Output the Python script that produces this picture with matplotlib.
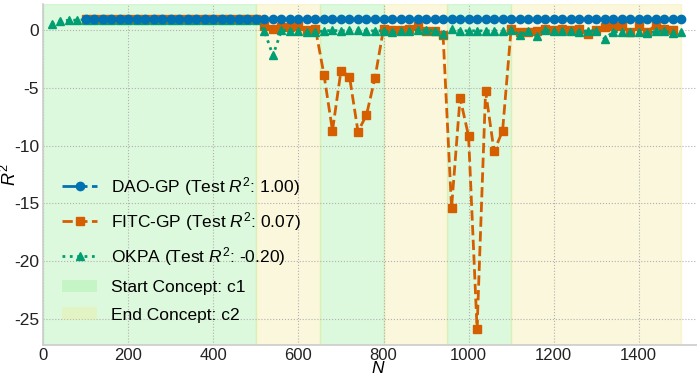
import matplotlib
matplotlib.use("Agg")
import matplotlib.pyplot as plt
from matplotlib.patches import Patch

plt.rcParams['font.family'] = ['Liberation Sans', 'DejaVu Sans']
plt.rcParams['mathtext.fontset'] = 'custom'
plt.rcParams['mathtext.it'] = 'Liberation Sans:italic'
plt.rcParams['mathtext.rm'] = 'Liberation Sans'
plt.rcParams['axes.unicode_minus'] = False

N_all = [20, 40, 60, 80, 100, 120, 140, 160, 180, 200, 220, 240, 260, 280, 300,
         320, 340, 360, 380, 400, 420, 440, 460, 480, 500, 520, 540, 560, 580, 600,
         620, 640, 660, 680, 700, 720, 740, 760, 780, 800, 820, 840, 860, 880, 900,
         920, 940, 960, 980, 1000, 1020, 1040, 1060, 1080, 1100, 1120, 1140, 1160,
         1180, 1200, 1220, 1240, 1260, 1280, 1300, 1320, 1340, 1360, 1380, 1400,
         1420, 1440, 1460, 1480, 1500]

N_dao = N_all[4:]
dao_r2 = [1.0, 1.0, 1.0, 1.0, 1.0, 1.0, 1.0, 1.0, 1.0, 1.0, 1.0, 1.0, 1.0, 1.0, 1.0,
          1.0, 1.0, 1.0, 1.0, 1.0, 1.0, 1.0, 1.0, 1.0, 1.0, 1.0, 1.0, 1.0, 1.0, 1.0,
          1.0, 1.0, 1.0, 1.0, 1.0, 1.0, 1.0, 1.0, 1.0, 1.0, 1.0, 1.0, 1.0, 1.0, 1.0,
          1.0, 1.0, 1.0, 1.0, 1.0, 1.0, 1.0, 1.0, 1.0, 1.0, 1.0, 1.0, 1.0, 1.0, 1.0,
          1.0, 1.0, 1.0, 1.0, 1.0, 1.0, 1.0, 1.0, 1.0, 1.0, 1.0]

N_fitc = N_all[4:-1]
fitc_r2 = [1.0, 1.0, 1.0, 1.0, 1.0, 1.0, 1.0, 1.0, 1.0, 1.0,
           1.0, 1.0, 1.0, 1.0, 1.0, 1.0, 1.0, 1.0, 1.0, 1.0,
           1.0, 0.37, 0.15, 0.29, 0.29, 0.43, 0.0, 0.15,
           -3.83, -8.7, -3.48, -4.0, -8.78, -7.33, -4.1,
           0.15, 0.03, 0.08, 0.17, 0.35, -0.03, -0.03, -0.36,
           -15.4, -5.85, -9.16, -25.9, -5.25, -10.5, -8.7,
           0.12, -0.1, -0.17, -0.06, 0.14, 0.06, 0.14, 0.03, 0.17, -0.29,
           0.08, 0.26, 0.37, 0.37, -0.14, 0.37, -0.12, 0.46, 0.17, 0.08]

N_okpa = N_all
okpa_r2 = [0.58, 0.85, 0.88, 0.9,
           0.95, 0.95, 0.95, 0.95, 0.95, 0.95, 0.95, 0.95, 0.95, 0.95,
           0.95, 0.95, 0.95, 0.95, 0.95, 0.95, 0.95, 0.95, 0.95, 0.95,
           0.87, -0.06, -2.17, 0.0, -0.03, -0.03, -0.14, -0.14, -0.03, 0.0,
           -0.03, 0.02, 0.07, -0.03, -0.03, -0.03, -0.17, -0.03, -0.03, 0.0,
           0.03, -0.03, -0.29, 0.1, -0.03, -0.03, -0.03, -0.03, -0.03, -0.03,
           0.05, -0.38, -0.03, -0.5, 0.05, -0.03, -0.08, -0.03, -0.12, -0.03,
           -0.03, -0.72, -0.12, -0.1, -0.12, -0.14, -0.25, -0.08, -0.03, -0.25,
           -0.1]

c1_spans = [(0, 500), (650, 800), (950, 1100)]
c2_spans = [(500, 650), (800, 950), (1100, 1500)]

labels = ["DAO-GP (Test $R^2$: 1.00)", "FITC-GP (Test $R^2$: 0.07)",
          "OKPA (Test $R^2$: -0.20)", "Start Concept: c1", "End Concept: c2"]

c_blue = '#0072B2'
c_orange = '#D55E00'
c_green = '#009E73'

fig = plt.figure(figsize=(6.97, 3.76), dpi=100)
ax = fig.add_axes([0.0621, 0.0824, 0.961, 0.907])

for a, b in c1_spans:
    ax.axvspan(a, b, color='lightgreen', alpha=0.3, zorder=0.2)
for a, b in c2_spans:
    ax.axvspan(a, b, color='khaki', alpha=0.3, zorder=0.2)

l1, = ax.plot(N_dao, dao_r2, linestyle='-.', marker='o', color=c_blue,
              markersize=6, linewidth=2, zorder=3)
l2, = ax.plot(N_fitc, fitc_r2, linestyle='--', marker='s', color=c_orange,
              markersize=6, linewidth=2, zorder=2.5)
l3, = ax.plot(N_okpa, okpa_r2, linestyle=':', marker='^', color=c_green,
              markersize=6, linewidth=2, zorder=2.8)

ax.set_xlim(0, 1575)
ax.set_ylim(-27.3, 2.3)
ax.set_xticks([0, 200, 400, 600, 800, 1000, 1200, 1400])
ax.set_yticks([0, -5, -10, -15, -20, -25])
ax.grid(True, linestyle=':', color='#b0b0b0', linewidth=0.8, zorder=0.1)
ax.set_axisbelow(True)
for s in ['top', 'right']:
    ax.spines[s].set_visible(False)
for s in ['left', 'bottom']:
    ax.spines[s].set_color('#cccccc')
    ax.spines[s].set_linewidth(1.2)
ax.tick_params(axis='both', length=0, labelsize=12.5, colors='#222222', pad=3)
ax.tick_params(axis='x', pad=2, labelsize=12)
ax.set_xlabel('N', fontsize=12.5, style='italic', va='bottom')
ax.xaxis.set_label_coords(0.5, -0.092)
ax.set_ylabel('$R^2$', fontsize=13, va='center')
ax.yaxis.set_label_coords(-0.05, 0.5)

h4 = Patch(facecolor='lightgreen', alpha=0.3)
h5 = Patch(facecolor='khaki', alpha=0.3)
ax.legend([l1, l2, l3, h4, h5], labels, loc='lower left', frameon=False,
          fontsize=12.5, labelspacing=0.7, bbox_to_anchor=(0.005, 0.02))

fig.savefig('out.png', dpi=100)
